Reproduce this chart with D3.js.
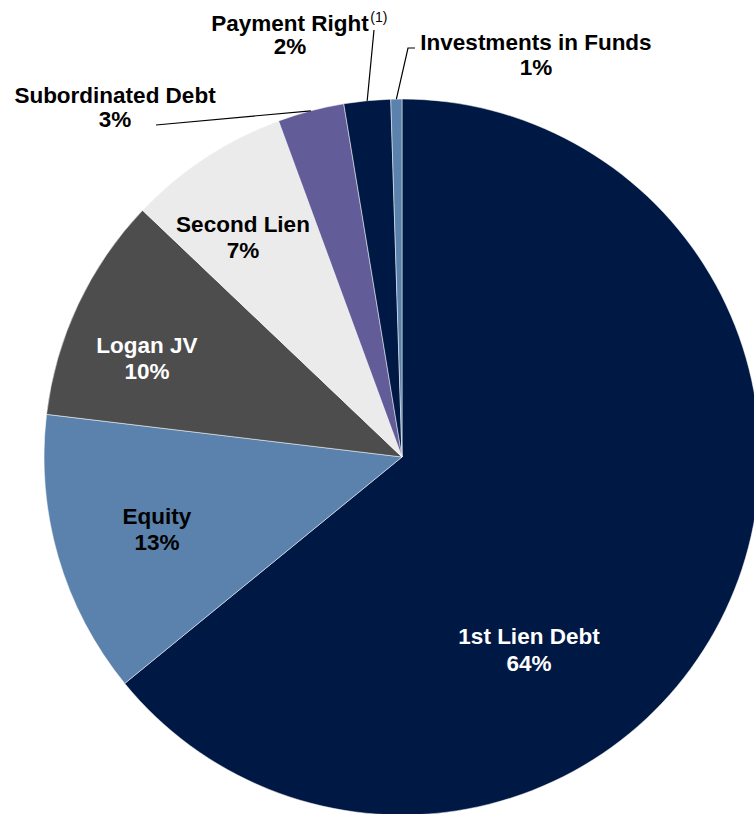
<!DOCTYPE html>
<html>

<script src="https://cdn.jsdelivr.net/npm/d3@7/dist/d3.min.js"></script>

<style>

  body, html {
    padding: 0;
    margin: 0;
    background: #fff;
  }

  svg {
    display: block;
  }

  text {
    font-family: Arial, "Liberation Sans", sans-serif;
    font-weight: bold;
  }

</style>

<body>
  <svg width="754" height="814"></svg>

  <script>

    // slices, clockwise from 12 o'clock
    var categories = ['1st Lien Debt', 'Equity', 'Logan JV', 'Second Lien',
                      'Subordinated Debt', 'Payment Right', 'Investments in Funds'];
    var shares = [64.1, 12.8, 10.2, 7.3, 3.0, 2.1, 0.5];
    var shareLabels = ['64%', '13%', '10%', '7%', '3%', '2%', '1%'];
    var colors = ['#001844', '#5a82ad', '#4d4d4d', '#ebebeb', '#625c99', '#001844', '#5a82ad'];
    var textColors = ['#fff', '#000', '#fff', '#000', '#000', '#000', '#000'];

    // where each label sits (centre x, first baseline) and where outside leaders bend
    var labelLayout = {
      '1st Lien Debt':        { x: 529, y: 644, gap: 27 },
      'Equity':               { x: 157, y: 524, gap: 26 },
      'Logan JV':             { x: 147, y: 353, gap: 26 },
      'Second Lien':          { x: 243, y: 232, gap: 26 },
      'Subordinated Debt':    { x: 115, y: 103, gap: 24 },
      'Payment Right':        { x: 290, y: 31, gap: 23 },
      'Investments in Funds': { x: 536, y: 50, gap: 25 }
    };
    var leaderBends = {
      'Subordinated Debt':    [[156, 125]],
      'Payment Right':        [[374, 30]],
      'Investments in Funds': [[415, 48], [408, 48]]
    };

    var cx = 402, cy = 457, radius = 358;

    var svg = d3.select('svg');
    var g = svg.append('g').attr('transform', 'translate(' + cx + ',' + cy + ')');

    var pie = d3.pie().sort(null).value(function (d) { return d.value; });
    var arc = d3.arc().innerRadius(0).outerRadius(radius);
    var edge = d3.arc().innerRadius(radius).outerRadius(radius);

    var data = categories.map(function (c, i) {
      return { name: c, value: shares[i], label: shareLabels[i], color: colors[i], text: textColors[i] };
    });
    var arcs = pie(data);

    g.selectAll('path.slice')
      .data(arcs)
      .enter().append('path')
        .attr('class', 'slice')
        .attr('d', arc)
        .attr('fill', function (d) { return d.data.color; })
        .attr('stroke', '#fff')
        .attr('stroke-width', 0.5);

    // leader lines for the thin slices
    var line = d3.line();
    svg.selectAll('path.leader')
      .data(arcs.filter(function (d) { return leaderBends[d.data.name]; }))
      .enter().append('path')
        .attr('class', 'leader')
        .attr('fill', 'none')
        .attr('stroke', '#000')
        .attr('stroke-width', 1.2)
        .attr('d', function (d) {
          var p = edge.centroid(d);
          var pts = leaderBends[d.data.name].slice();
          pts.push([p[0] + cx, p[1] + cy]);
          return line(pts);
        });

    var labels = svg.selectAll('text.label')
      .data(arcs)
      .enter().append('text')
        .attr('class', 'label')
        .attr('text-anchor', 'middle')
        .attr('font-size', 22.5)
        .attr('fill', function (d) { return d.data.text; });

    labels.each(function (d) {
      var t = d3.select(this), L = labelLayout[d.data.name];
      t.append('tspan').attr('class', 'name').attr('x', L.x).attr('y', L.y).text(d.data.name);
      t.append('tspan').attr('x', L.x).attr('y', L.y + L.gap).text(d.data.label);
    });

    // footnote marker after "Payment Right"
    var prBox = labels.filter(function (d) { return d.data.name === 'Payment Right'; })
      .select('tspan.name').node().getBBox();
    svg.append('text')
      .attr('x', prBox.x + prBox.width + 1)
      .attr('y', labelLayout['Payment Right'].y - 9)
      .attr('font-size', 14)
      .attr('fill', '#000')
      .style('font-weight', 'normal')
      .text('(1)');

  </script>
</body>
</html>
